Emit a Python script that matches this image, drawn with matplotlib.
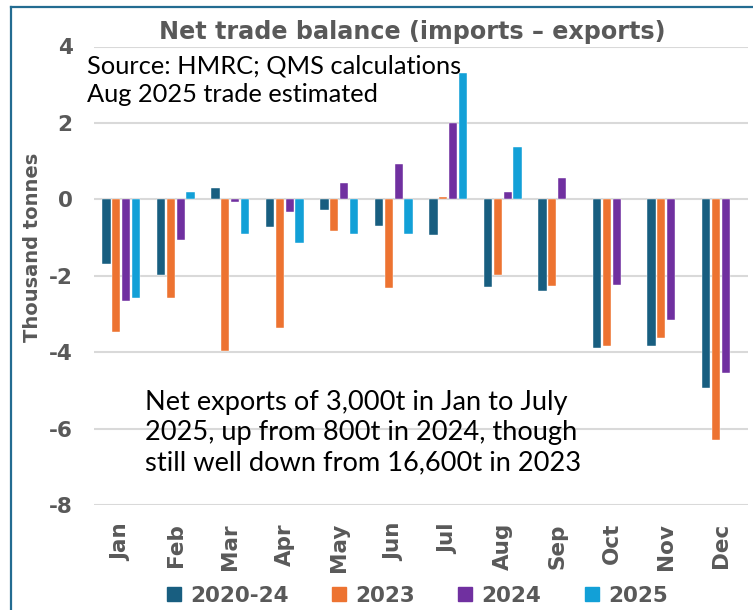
import numpy as np
import matplotlib
matplotlib.use("Agg")
import matplotlib.pyplot as plt
from matplotlib.lines import Line2D

months = ["Jan", "Feb", "Mar", "Apr", "May", "Jun", "Jul", "Aug", "Sep", "Oct", "Nov", "Dec"]
series_names = ["2020-24", "2023", "2024", "2025"]
avg_2020_24 = [-1.68, -1.97, 0.30, -0.72, -0.29, -0.69, -0.93, -2.29, -2.39, -3.89, -3.83, -4.95]
y2023 = [-3.48, -2.59, -3.98, -3.37, -0.82, -2.31, 0.07, -1.97, -2.26, -3.83, -3.62, -6.30]
y2024 = [-2.66, -1.07, -0.07, -0.34, 0.43, 0.93, 2.00, 0.18, 0.55, -2.23, -3.16, -4.54]
y2025 = [-2.59, 0.18, -0.92, -1.13, -0.90, -0.92, 3.30, 1.37, np.nan, np.nan, np.nan, np.nan]
yticks = [4, 2, 0, -2, -4, -6, -8]

colors = ["#185E80", "#ED7331", "#7030A0", "#12A0D7"]
GREY = "#595959"
W, H = 753, 610

fig = plt.figure(figsize=(W / 100, H / 100), dpi=100)
ax = fig.add_axes([94 / W, 1 - 505 / H, (748 - 94) / W, (505 - 46.5) / H])

x = np.arange(len(months))
slot = 0.182
width = 0.153
for i, (vals, c) in enumerate(zip([avg_2020_24, y2023, y2024, y2025], colors)):
    ax.bar(x + (i - 1.5) * slot, vals, width, color=c, edgecolor="white", linewidth=0.3, zorder=3)

ax.set_xlim(-0.5, 11.5)
ax.set_ylim(-8, 4)
ax.set_yticks(yticks)
ax.set_yticklabels([str(v) for v in yticks])
ax.set_xticks(x)
ax.set_xticklabels(months, rotation=90)
ax.grid(axis="y", color="#D9D9D9", linewidth=1.5, zorder=0)
ax.tick_params(axis="both", length=0, labelcolor=GREY)
ax.tick_params(axis="y", pad=15.5)
ax.tick_params(axis="x", pad=13)
for lab in ax.get_xticklabels() + ax.get_yticklabels():
    lab.set_fontfamily("DejaVu Sans")
    lab.set_fontweight("bold")
    lab.set_fontsize(15.5)
for s in ax.spines.values():
    s.set_visible(False)

# frame around the chart (only top and left are visible in the crop)
fig.add_artist(Line2D([11 / W, 11 / W], [1 - 7 / H, 0], color="#236C91", linewidth=1.6))
fig.add_artist(Line2D([11 / W, 1], [1 - 7 / H, 1 - 7 / H], color="#236C91", linewidth=1.6))

fig.text(412 / W, 1 - 39 / H, "Net trade balance (imports \u2013 exports)", ha="center", va="baseline",
         fontsize=17.2, fontweight="bold", color=GREY, family="DejaVu Sans")
fig.text(87 / W, 1 - 102 / H, "Source: HMRC; QMS calculations\nAug 2025 trade estimated",
         ha="left", va="baseline", fontsize=18.3, color="black", family="Lato", linespacing=1.3)
fig.text(145 / W, 1 - 470 / H,
         "Net exports of 3,000t in Jan to July\n2025, up from 800t in 2024, though\nstill well down from 16,600t in 2023",
         ha="left", va="baseline", fontsize=19.6, color="black", family="Lato", linespacing=1.25)
fig.text(33 / W, 1 - 247 / H, "Thousand tonnes", rotation=90, ha="center", va="center",
         fontsize=14, fontweight="bold", color=GREY, family="DejaVu Sans")

handles = [Line2D([], [], marker="s", linestyle="none", markersize=10, color=c) for c in colors]
leg = fig.legend(handles, series_names, loc="center", bbox_to_anchor=(417 / W, 1 - 596 / H), ncol=4,
                 frameon=False, handlelength=0.7, handletextpad=0.4, columnspacing=2.0,
                 prop={"family": "DejaVu Sans", "weight": "bold", "size": 15.5})
for t in leg.get_texts():
    t.set_color(GREY)

fig.savefig("out.png", dpi=100)
